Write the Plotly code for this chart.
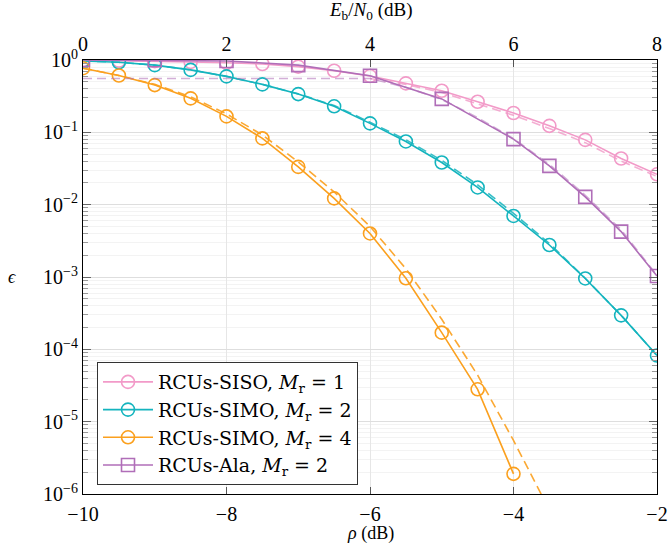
import plotly.graph_objects as go

# ---------------- data ----------------
rho = [-10, -9.5, -9, -8.5, -8, -7.5, -7, -6.5, -6, -5.5, -5, -4.5, -4, -3.5, -3, -2.5, -2]

siso = [0.99, 0.98, 0.965, 0.94, 0.915, 0.88, 0.81, 0.71, 0.60, 0.475, 0.376, 0.265,
        0.185, 0.123, 0.0787, 0.0435, 0.0263]
rho_siso_approx = [-6, -5.5, -5, -4.5, -4, -3.5, -3, -2.5, -2]
siso_approx = [0.555, 0.46, 0.355, 0.25, 0.172, 0.113, 0.072, 0.040, 0.0245]

simo2 = [0.97, 0.93, 0.85, 0.73, 0.594, 0.46, 0.338, 0.229, 0.133, 0.0748, 0.0383, 0.0173,
         0.00698, 0.00277, 9.55e-4, 2.95e-4, 8.2e-5]
simo2_approx = [0.97, 0.93, 0.85, 0.73, 0.594, 0.46, 0.34, 0.235, 0.138, 0.079, 0.041, 0.0188,
                0.0076, 0.0029, 9.6e-4, 2.95e-4, 8.2e-5]

rho4 = [-10, -9.5, -9, -8.5, -8, -7.5, -7, -6.5, -6, -5.5, -5, -4.5, -4]
simo4 = [0.77, 0.61, 0.45, 0.295, 0.166, 0.0824, 0.0333, 0.0122, 0.0040, 9.6e-4, 1.7e-4,
         2.8e-5, 1.9e-6]
rho4_approx = [-10, -9.5, -9, -8.5, -8, -7.5, -7, -6.5, -6, -5.5, -5, -4.5, -4, -3.5]
simo4_approx = [0.77, 0.61, 0.46, 0.31, 0.18, 0.092, 0.039, 0.015, 0.0050, 1.3e-3, 2.6e-4,
                4.4e-5, 5.5e-6, 6e-7]

rho_ala = [-10, -9, -8, -7, -6, -5, -4, -3.5, -3, -2.5, -2]
ala = [1.0, 0.99, 0.97, 0.85, 0.607, 0.29, 0.0805, 0.0344, 0.0128, 0.00424, 1.03e-3]
rho_ala_approx = [-10, -9.5, -9, -8.5, -8, -7.5, -7, -6.5, -6, -5.5, -5, -4.5, -4, -3.5, -3, -2.5, -2]
ala_approx = [0.555, 0.555, 0.555, 0.555, 0.555, 0.555, 0.555, 0.555, 0.555, 0.42, 0.285, 0.16,
              0.082, 0.036, 0.0135, 0.0045, 1.05e-3]

ebn0_ticks = [0, 2, 4, 6, 8]
x_ticks = [-10, -8, -6, -4, -2]
x_ticktext = ["\u221210", "\u22128", "\u22126", "\u22124", "\u22122"]
y_exps = [0, -1, -2, -3, -4, -5, -6]

# ---------------- style ----------------
PINK = "#F29AC8"
TEAL = "#14B4BE"
ORANGE = "#FBA01E"
PURPLE = "#B06EB8"
FONT = "Liberation Serif, DejaVu Serif, serif"
LEGEND_FONT = "DejaVu Serif, serif"

fig = go.Figure()

def add_series(x, y, color, name, symbol, xa, ya, op):
    fig.add_trace(go.Scatter(x=xa, y=ya, mode="lines", showlegend=False,
                             line=dict(color=color, width=1.6, dash="9px,5px"),
                             opacity=op, hoverinfo="skip"))
    fig.add_trace(go.Scatter(x=x, y=y, mode="lines+markers", name=name,
                             line=dict(color=color, width=1.6),
                             marker=dict(symbol=symbol, size=13, color=color,
                                         line=dict(width=1.6, color=color))))

add_series(rho, siso, PINK, "RCUs-SISO, <i>M</i><sub>r</sub> = 1", "circle-open",
           rho_siso_approx, siso_approx, 0.8)
add_series(rho, simo2, TEAL, "RCUs-SIMO, <i>M</i><sub>r</sub> = 2", "circle-open",
           rho, simo2_approx, 0.85)
add_series(rho4, simo4, ORANGE, "RCUs-SIMO, <i>M</i><sub>r</sub> = 4", "circle-open",
           rho4_approx, simo4_approx, 0.9)
add_series(rho_ala, ala, PURPLE, "RCUs-Ala, <i>M</i><sub>r</sub> = 2", "square-open",
           rho_ala_approx, ala_approx, 0.55)

# invisible trace to bring up the top axis
fig.add_trace(go.Scatter(x=[ebn0_ticks[0], ebn0_ticks[-1]], y=[1, 1], xaxis="x2", mode="lines",
                         line=dict(width=0), showlegend=False, hoverinfo="skip", opacity=0))

minor_vals = [m * 10.0 ** e for e in range(-6, 0) for m in range(2, 10)]

fig.update_layout(
    width=668, height=546,
    margin=dict(l=83, r=11, t=60, b=52, autoexpand=False),
    paper_bgcolor="white", plot_bgcolor="white",
    font=dict(family=FONT, size=20, color="black"),
    showlegend=True,
    legend=dict(x=0.0244, y=0.304, xanchor="left", yanchor="top",
                bgcolor="white", bordercolor="#333", borderwidth=1,
                font=dict(family=LEGEND_FONT, size=19), tracegroupgap=0,
                itemwidth=50),
    xaxis=dict(range=[-10, -2], tickmode="array", tickvals=x_ticks, ticktext=x_ticktext,
               ticks="inside", ticklen=7, tickcolor="#555", showline=True, linecolor="black",
               linewidth=1.2, mirror=True, showgrid=True, gridcolor="#e6e6e6", gridwidth=1,
               zeroline=False, automargin=False, ticklabelstandoff=2),
    xaxis2=dict(range=[0, 8], overlaying="x", side="top", anchor="y", tickmode="array",
                tickvals=ebn0_ticks, ticks="inside", ticklen=7, tickcolor="#555",
                showline=True, linecolor="black", linewidth=1.2, showgrid=False, zeroline=False,
                automargin=False, ticklabelstandoff=0),
    yaxis=dict(type="log", range=[-6, 0], tickmode="array",
               tickvals=[10.0 ** e for e in y_exps],
               ticktext=["10<sup>%s</sup>" % (str(e).replace("-", "\u2212")) for e in y_exps],
               ticks="inside", ticklen=8, tickcolor="#666", showline=True, linecolor="black",
               linewidth=1.2, mirror="ticks", showgrid=True, gridcolor="#dedede", gridwidth=1,
               zeroline=False, automargin=False,
               minor=dict(tickmode="array", tickvals=minor_vals, ticks="inside", ticklen=5,
                          tickcolor="#999", showgrid=True, gridcolor="#f3f3f3", gridwidth=1)),
    annotations=[
        dict(text="<i>ρ</i> (dB)", xref="paper", yref="paper", x=0.5, y=-0.09,
             xanchor="center", yanchor="middle", showarrow=False, font=dict(size=18)),
        dict(text="<i>E</i><sub>b</sub>/<i>N</i><sub>0</sub> (dB)", xref="paper", yref="paper",
             x=0.5, y=1.112, xanchor="center", yanchor="middle", showarrow=False,
             font=dict(size=19)),
        dict(text="<i>ϵ</i>", xref="paper", yref="paper", x=-0.124, y=0.5,
             xanchor="center", yanchor="middle", showarrow=False, font=dict(size=18)),
    ],
)

# remove the page's default body margin so the figure fills the window exactly
fig.write_html("out.html", config={"displayModeBar": False},
               post_script="document.body.style.margin='0';")
